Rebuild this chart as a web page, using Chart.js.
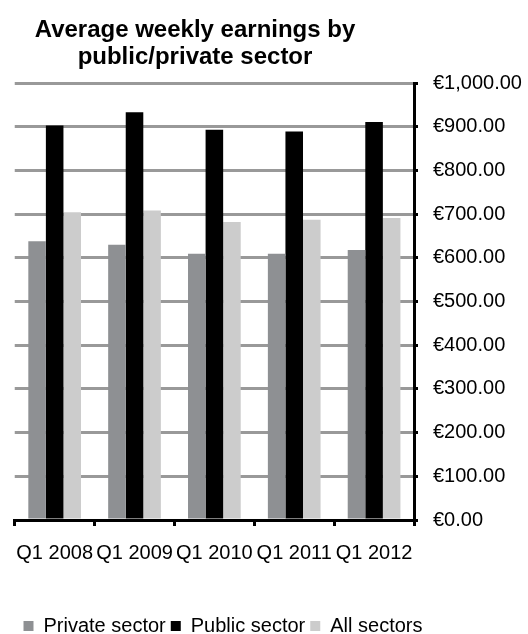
<!DOCTYPE html>
<html>
<head>
<meta charset="utf-8">
<script src="https://cdn.jsdelivr.net/npm/chart.js@4"></script>
<style>
  html, body { margin: 0; padding: 0; background: #fff; }
  #wrap { width: 528px; height: 634px; }
</style>
</head>
<body>
<div id="wrap"><canvas id="earnings"></canvas></div>
<script>
const quarters = ['Q1 2008', 'Q1 2009', 'Q1 2010', 'Q1 2011', 'Q1 2012'];
const privateSector = [638, 630, 609, 609, 618];
const publicSector = [903, 933, 893, 889, 911];
const allSectors = [704, 708, 682, 687, 691];

Chart.defaults.font.family = "'Liberation Sans', Arial, sans-serif";
Chart.defaults.color = '#000';

// Excel centres the title and legend off the plot, not the canvas
const shiftBoxes = {
    id: 'shiftBoxes',
    afterLayout(chart) {
        const t = chart.titleBlock;
        t.left = 195 - 264; t.right = 195 + 264;
        const l = chart.legend;
        const h = l.height;
        l.left = 223 - 264; l.right = 223 + 264;
        l.top = 611; l.bottom = 611 + h;
    }
};

new Chart(document.getElementById('earnings'), {
    type: 'bar',
    plugins: [shiftBoxes],
    data: {
        labels: quarters,
        datasets: [
            { label: 'Private sector', data: privateSector, backgroundColor: '#8e9093' },
            { label: 'Public sector', data: publicSector, backgroundColor: '#000000' },
            { label: 'All sectors', data: allSectors, backgroundColor: '#cccccc' }
        ]
    },
    options: {
        responsive: true,
        maintainAspectRatio: false,
        animation: false,
        layout: { padding: { left: 13, right: 0, top: 0, bottom: 34 } },
        datasets: { bar: { categoryPercentage: 0.66, barPercentage: 1 } },
        plugins: {
            title: {
                display: true,
                text: ['Average weekly earnings by', 'public/private sector'],
                font: { size: 24, weight: 'bold', lineHeight: 1.125 },
                color: '#000',
                padding: { top: 17, bottom: 12 }
            },
            legend: {
                position: 'bottom',
                labels: { boxWidth: 10, boxHeight: 10, padding: 5, font: { size: 20 } }
            },
            tooltip: { enabled: false }
        },
        scales: {
            x: {
                afterFit: s => { s.height = 45; },
                grid: {
                    display: true, drawOnChartArea: false, offset: true,
                    tickLength: 6, tickWidth: 3, tickColor: '#000'
                },
                border: { color: '#000', width: 3 },
                ticks: { font: { size: 20 }, padding: 15, autoSkip: false, maxRotation: 0, minRotation: 0 }
            },
            y: {
                position: 'right',
                afterFit: s => { s.width = 114; },
                min: 0,
                max: 1000,
                grid: { color: '#999999', lineWidth: 3, tickLength: 4, tickWidth: 3, tickColor: '#000' },
                border: { color: '#000', width: 3 },
                ticks: {
                    stepSize: 100,
                    padding: 15,
                    font: { size: 20 },
                    callback: v => '€' + v.toLocaleString('en-US', { minimumFractionDigits: 2, maximumFractionDigits: 2 })
                }
            }
        }
    }
});
</script>
</body>
</html>
